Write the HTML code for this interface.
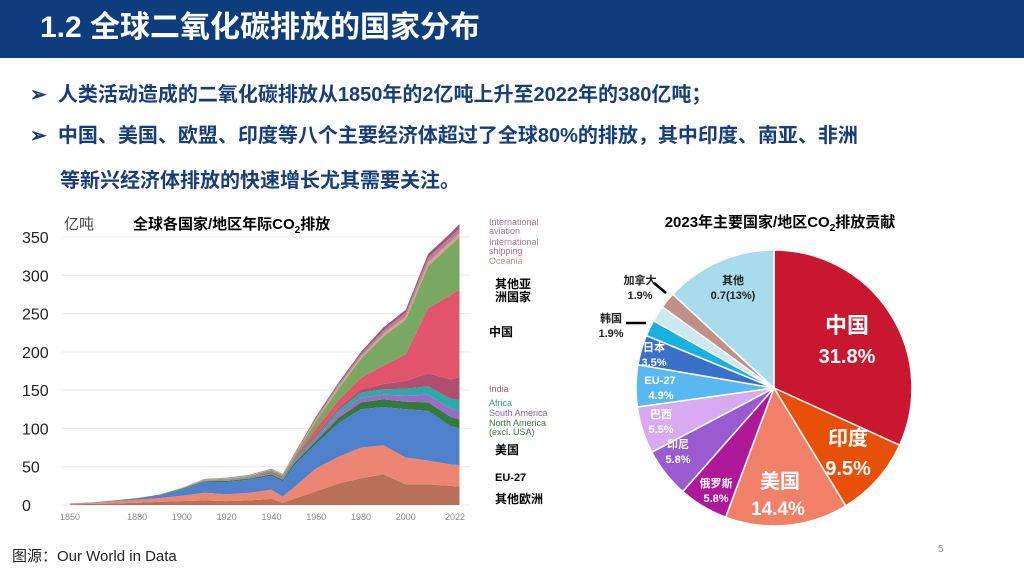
<!DOCTYPE html>
<html><head><meta charset="utf-8">
<style>
body{margin:0;width:1024px;height:576px;overflow:hidden;background:#fff;font-family:"Liberation Sans","Noto Sans CJK SC",sans-serif;position:relative}
.abs{position:absolute;white-space:nowrap}
#hdr{left:0;top:0;width:1024px;height:58px;background:#0d3d7c}
#title{left:40px;top:8px;color:#fff;font-size:30px;font-weight:bold;line-height:40px}
.bl{color:#173e7a;font-size:20px;font-weight:bold;line-height:26px}
svg text{font-family:"Liberation Sans","Noto Sans CJK SC",sans-serif}
</style></head><body>
<div id="hdr" class="abs"></div>
<div id="title" class="abs">1.2 全球二氧化碳排放的国家分布</div>
<div class="abs bl" style="left:30px;top:82px">➢&nbsp; 人类活动造成的二氧化碳排放从1850年的2亿吨上升至2022年的380亿吨；</div>
<div class="abs bl" style="left:30px;top:123px">➢&nbsp; 中国、美国、欧盟、印度等八个主要经济体超过了全球80%的排放，其中印度、南亚、非洲</div>
<div class="abs bl" style="left:60px;top:168px">等新兴经济体排放的快速增长尤其需要关注。</div>
<div class="abs" style="left:12px;top:545px;font-size:15px;color:#222">图源：Our World in Data</div>
<div class="abs" style="left:938px;top:544px;font-size:10px;color:#999">5</div>

<svg id="area" class="abs" style="left:0;top:205px" width="590" height="320"></svg>
<svg id="pie" class="abs" style="left:590px;top:205px" width="380" height="325"></svg>

<script>
const years=[1850,1860,1870,1880,1890,1900,1910,1920,1930,1940,1945,1950,1960,1970,1980,1990,2000,2010,2020,2024];
const otherEurope=[1,1.5,2,3,4,5,6,5,6,8,3,8,18,28,35,40,27,27,25,24];
const eu27=[1,1.5,3,4,5,7,10,9,10,12,8,15,30,35,40,38,35,31,28,28];
const usa=[0.2,0.5,1,2,4,8,14,16,17,18,20,28,32,44,50,50,63,65,50,48];
const naExcl=[0,0,0,0,0.5,1,1,1.5,1.5,2,2,3,4,7,9,10,10,11,12,12];
const southAm=[0,0,0,0,0,0.2,0.3,0.5,0.5,1,1,2,3,5,6,6,8,10,11,11];
const africa=[0,0,0,0,0,0.2,0.3,0.5,0.5,1,1,2,3,5,7,7,9,11,13,14];
const india=[0,0,0,0,0,0.3,0.5,0.5,0.5,1,1,1,2,3,4,7,10,17,25,30];
const china=[0,0,0,0,0,0.1,0.2,0.3,0.4,1,1,1,8,10,15,24,35,85,110,115];
const otherAsia=[0,0,0,0,0.2,0.5,1,1,1.5,2,2,3,10,15,25,38,45,55,65,68];
const oceania=[0,0,0,0,0,0.2,0.3,0.4,0.4,0.5,0.5,1,2,3,3,4,4,5,5,5];
const shipping=[0,0,0,0,0,0,0.5,1,1,1,1,1,2,3,3,4,5,6,6,6];
const aviation=[0,0,0,0,0,0,0,0,0,0,0,1,2,2,3,4,4,5,5,6];
const yTicks=[0,50,100,150,200,250,300,350];
const xTicks=[1850,1880,1900,1920,1940,1960,1980,2000,2022];
const layers=[["other-europe",otherEurope,"#b87058"],["eu-27",eu27,"#ec8672"],["usa",usa,"#4f80cc"],["north-america-excl-usa",naExcl,"#347a3c"],["south-america",southAm,"#9a6cc4"],["africa",africa,"#2aaaa8"],["india",india,"#b04e6e"],["china",china,"#e2546c"],["other-asia",otherAsia,"#78a862"],["oceania",oceania,"#d4a488"],["shipping",shipping,"#c07a9a"],["aviation",aviation,"#9a5a7a"]];
const NS="http://www.w3.org/2000/svg";
function mk(p,t,a){const e=document.createElementNS(NS,t);for(const k in a)e.setAttribute(k,a[k]);p.appendChild(e);return e;}
const A=document.getElementById('area');
const X=y=>70+(y-1850)*(455-70)/(2022-1850);
const Y=v=>300-v*(300-32)/350;
yTicks.forEach(t=>{
 const l=mk(A,'line',{x1:62,x2:470,y1:Y(t),y2:Y(t),stroke:'#e8e8e8','stroke-width':1});
 
 const tx=mk(A,'text',{x:22,y:Y(t)+6,'font-size':16,fill:'#222'});tx.textContent=t;
 
});
xTicks.forEach(t=>{const tx=mk(A,'text',{x:X(t),y:315,'font-size':9,fill:'#888','text-anchor':'middle'});tx.textContent=t;
 });
let base=years.map(()=>0);
layers.forEach(([nm,arr,col])=>{
 const top=base.map((b,i)=>b+arr[i]);
 let d='M'+years.map((y,i)=>X(y)+','+Y(top[i])).join(' L');
 d+=' L'+years.slice().reverse().map((y,j)=>{const i=years.length-1-j;return X(y)+','+Y(base[i]);}).join(' L')+'Z';
 const p=mk(A,'path',{d:d,fill:col});
 
 base=top;
});
const t1=mk(A,'text',{x:64,y:24,'font-size':15,fill:'#444'});t1.textContent='亿吨';

const t2=mk(A,'text',{x:133,y:24,'font-size':15,'font-weight':'bold',fill:'#000'});t2.innerHTML='全球各国家/地区年际CO<tspan font-size="10" dy="4">2</tspan><tspan dy="-4">排放</tspan>';

const labs=[["International",20,9,"#b07090",489],["aviation",29,9,"#b07090",489],["International",40,9,"#b07090",489],["shipping",49,9,"#b07090",489],["Oceania",59,9,"#c09080",489],["其他亚",83,12,"#000",495],["洲国家",96,12,"#000",495],["中国",131,12,"#000",489],["India",187,9,"#b05070",489],["Africa",201,9,"#2a9a9a",489],["South America",211,9,"#8a60b0",489],["North America",221,9,"#347a3c",489],["(excl. USA)",230,9,"#347a3c",489],["美国",249,12,"#000",495],["EU-27",276,11,"#000",495],["其他欧洲",298,12,"#000",495]];
labs.forEach(([s,y,f,c,x])=>{const tx=mk(A,'text',{x:x,y:y,'font-size':f,fill:c,'font-weight':f>=11?'bold':'normal'});tx.textContent=s;
 });

const pieLabels=["中国","印度","美国","俄罗斯","印尼","巴西","EU-27","日本","韩国","其他小国","加拿大","其他"];
const pieValues=[31.8,9.5,14.4,5.8,5.8,5.5,4.9,3.5,1.9,1.9,1.9,13.1];
const pieColors=["#c8172e","#e8500a","#f08068","#b0189a","#9a5ad0","#d8aaf2","#5ab8f0","#3a70c8","#1ab0e0","#cde8ef","#c09088","#a8dcec"];
const P=document.getElementById('pie');
const ct=mk(P,'text',{x:190,y:22,'font-size':15,'font-weight':'bold',fill:'#000','text-anchor':'middle'});ct.innerHTML='2023年主要国家/地区CO<tspan font-size="10" dy="4">2</tspan><tspan dy="-4">排放贡献</tspan>';

const cx=184,cy=183,r=138;const tot=pieValues.reduce((a,b)=>a+b,0);
let ang=-Math.PI/2;
pieValues.forEach((v,i)=>{const a2=ang+v/tot*2*Math.PI;
 const large=(a2-ang)>Math.PI?1:0;
 const d=`M${cx},${cy} L${cx+r*Math.cos(ang)},${cy+r*Math.sin(ang)} A${r},${r} 0 ${large} 1 ${cx+r*Math.cos(a2)},${cy+r*Math.sin(a2)} Z`;
 const p=mk(P,'path',{d:d,fill:pieColors[i],stroke:'#fff','stroke-width':1.5});
 
 ang=a2;});
const pl=[["中国",257,128,22,"#fff"],["31.8%",257,158,20,"#fff"],["印度",258,240,20,"#fff"],["9.5%",258,270,20,"#fff"],["美国",190,283,20,"#fff"],["14.4%",188,310,19,"#fff"],["俄罗斯",126,282,11,"#fff"],["5.8%",126,297,11,"#fff"],["印尼",88,243,11,"#fff"],["5.8%",88,258,11,"#fff"],["巴西",71,213,11,"#fff"],["5.5%",71,228,11,"#fff"],["EU-27",70,179,11,"#fff"],["4.9%",71,194,11,"#fff"],["日本",64,146,11,"#fff"],["3.5%",64,161,11,"#fff"],["其他",143,79,11,"#222"],["0.7(13%)",143,94,11,"#222"],["加拿大",50,79,11,"#222"],["1.9%",50,94,11,"#222"],["韩国",21,117,11,"#222"],["1.9%",21,132,11,"#222"]];
pl.forEach(([s,x,y,f,c])=>{const tx=mk(P,'text',{x:x,y:y,'font-size':f,fill:c,'font-weight':'bold','text-anchor':'middle'});tx.textContent=s;
 });
const l1=mk(P,'line',{x1:36,y1:118,x2:56,y2:118,stroke:'#000','stroke-width':2.5});
const l2=mk(P,'line',{x1:64,y1:78,x2:76,y2:88,stroke:'#000','stroke-width':2.5});
</script>
</body></html>
